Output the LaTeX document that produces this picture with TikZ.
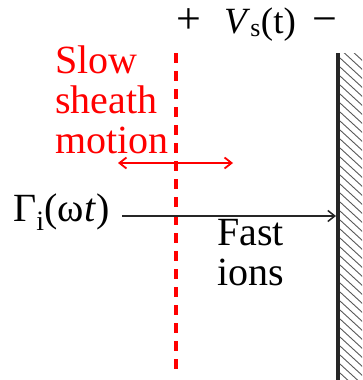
\documentclass[tikz,border=0pt]{standalone}
\usepackage{fontspec}
\setmainfont{Liberation Serif}
\usetikzlibrary{arrows.meta}
\tikzset{
  lbl/.style={anchor=base west, inner sep=0pt, font=\fontsize{40}{40}\selectfont, align=left},
  toplbl/.style={anchor=base west, inner sep=0pt, font=\fontsize{37}{40}\selectfont},
  signlbl/.style={anchor=base west, inner sep=0pt, font=\fontsize{44}{40}\selectfont},
  redlbl/.style={lbl, text=red},
  sheath/.style={draw=red, line width=4pt, dash pattern=on 10pt off 8pt},
  redarrow/.style={draw=red, line width=1.8pt, {Straight Barb[length=7pt,width=11pt]}-{Straight Barb[length=7pt,width=11pt]}},
  ionarrow/.style={draw=black!85, line width=1.5pt, -{Straight Barb[length=7pt,width=11pt]}},
  wallline/.style={draw=black!85, line width=4.5pt},
  hatch/.style={draw=black!65, line width=0.9pt}
}
\begin{document}
\begin{tikzpicture}[x=1pt,y=-1pt]
\useasboundingbox (0,0) rectangle (362,380);
% voltage label
\node[signlbl] (plus) at (176,33) {+};
\node[toplbl] (vs) at (224,33) {\textit{V}\textsubscript{s}(t)};
\node[signlbl] (minus) at (312,33) {−};
% sheath edge
\coordinate (shtop) at (176,53);
\coordinate (shbot) at (176,372);
\draw[sheath] (shtop) -- (shbot);
% red label (anchored at the last line's baseline)
\node[redlbl] (slow) at (55,153) {Slow\\sheath\\motion};
\coordinate (ral) at (118,163);
\coordinate (rar) at (233,163);
\draw[redarrow] (ral) -- (rar);
% wall
\coordinate (wtop) at (338,53);
\coordinate (wbot) at (338,380);
\begin{scope}
\clip (340,53) rectangle (362,380);
\foreach \k in {40,49,...,380}{
  \draw[hatch] (340,\k) -- (364,\k+22);
}
\end{scope}
\draw[wallline] (wtop) -- (wbot);
% ion flux
\node[lbl] (gamma) at (13,221) {Γ\textsubscript{i}(ω\textit{t})};
\coordinate (astart) at (122,216);
\coordinate (wallhit) at (336,216);
\draw[ionarrow] (astart) -- (wallhit);
\node[lbl] (fast) at (217,285) {Fast\\ions};
\end{tikzpicture}
\end{document}
